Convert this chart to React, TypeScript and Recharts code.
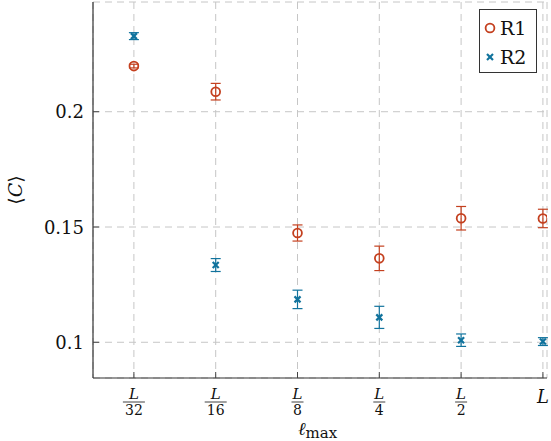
import React from "react";
import {
  ScatterChart,
  Scatter,
  XAxis,
  YAxis,
  CartesianGrid,
  ErrorBar,
  Legend,
  Label,
} from "recharts";

const xLabels = ["L/32", "L/16", "L/8", "L/4", "L/2", "L"];
const r1Mean = [0.2198, 0.2087, 0.1474, 0.1364, 0.1538, 0.1537];
const r1Err = [0.0008, 0.0036, 0.0035, 0.0053, 0.0051, 0.004];
const r2Mean = [0.2328, 0.1335, 0.1186, 0.1108, 0.1009, 0.1003];
const r2Err = [0.0015, 0.0028, 0.004, 0.0048, 0.0027, 0.0017];
const yTicks = [0.1, 0.15, 0.2];
const seriesNames = ["R1", "R2"];

const RED = "#c4401f";
const BLUE = "#11739d";
const FONT = "DejaVu Serif";
const xIdx = xLabels.map((_, i) => i);

const r1Data = xIdx.map((i) => ({ x: i, y: r1Mean[i], err: r1Err[i] }));
const r2Data = xIdx.map((i) => ({ x: i, y: r2Mean[i], err: r2Err[i] }));

const xDomain = [-0.5, 5.05];
const yDomain = [0.0845, 0.2476];

const Circle = (p: any) => (
  <circle cx={p.cx} cy={p.cy} r={4.4} fill="none" stroke={RED} strokeWidth={1.8} />
);

const Cross = (p: any) => {
  const s = 3;
  return (
    <g stroke={BLUE} strokeWidth={2.2}>
      <line x1={p.cx - s} y1={p.cy - s} x2={p.cx + s} y2={p.cy + s} />
      <line x1={p.cx - s} y1={p.cy + s} x2={p.cx + s} y2={p.cy - s} />
    </g>
  );
};

const BottomTick = (props: any) => {
  const { x, y, payload } = props;
  const [num, den] = xLabels[payload.value].split("/");
  return (
    <g>
      <line x1={x} x2={x} y1={y} y2={y - 6} stroke="#444" />
      {den ? (
        <>
          <text x={x} y={y + 21} textAnchor="middle" fontStyle="italic" fontSize={15} fontFamily={FONT} fill="#111">
            {num}
          </text>
          <line x1={x - den.length * 5 - 1} x2={x + den.length * 5 + 1} y1={y + 24} y2={y + 24} stroke="#111" strokeWidth={0.8} />
          <text x={x} y={y + 37} textAnchor="middle" fontSize={14} fontFamily={FONT} fill="#111">
            {den}
          </text>
        </>
      ) : (
        <text x={x} y={y + 25} textAnchor="middle" fontStyle="italic" fontSize={18} fontFamily={FONT} fill="#111">
          {num}
        </text>
      )}
    </g>
  );
};

const TopTick = (props: any) => (
  <line x1={props.x} x2={props.x} y1={props.y} y2={props.y + 6} stroke="#444" />
);

const LeftTick = (props: any) => {
  const { x, y, payload } = props;
  return (
    <g>
      <line x1={x} x2={x + 6} y1={y} y2={y} stroke="#444" />
      <text x={x - 9} y={y + 6.5} textAnchor="end" fontSize={18} fontFamily={FONT} fill="#111">
        {String(payload.value)}
      </text>
    </g>
  );
};

const RightTick = (props: any) => (
  <line x1={props.x} x2={props.x - 6} y1={props.y} y2={props.y} stroke="#444" />
);

const LegendBox = () => (
  <div
    style={{
      border: "1px solid #333",
      background: "#fff",
      width: 58,
      height: 64,
      boxSizing: "border-box",
      fontFamily: FONT,
      fontSize: 19,
      color: "#111",
    }}
  >
    {seriesNames.map((name, i) => (
      <div key={name} style={{ display: "flex", alignItems: "center", height: 29, marginTop: i === 0 ? 3 : 0 }}>
        <svg width={20} height={20}>
          {i === 0 ? <Circle cx={10} cy={10} /> : <Cross cx={10} cy={10} />}
        </svg>
        <span>{name}</span>
      </div>
    ))}
  </div>
);

export default function App() {
  return (
    <div style={{ position: "fixed", left: 0, top: 0, background: "#fff" }}>
      <ScatterChart width={551} height={441} margin={{ top: 2, right: 4, left: 0, bottom: 0 }}>
        <CartesianGrid stroke="#c6c6c6" strokeDasharray="7 5" />
        <XAxis
          dataKey="x"
          type="number"
          domain={xDomain}
          ticks={xIdx}
          allowDataOverflow
          height={63}
          tickSize={0}
          tickMargin={0}
          tickLine={false}
          tick={<BottomTick />}
          axisLine={{ stroke: "#333", strokeWidth: 1.2 }}
          interval={0}
        >
          <Label
            content={() => (
              <text x={298} y={435} fontFamily={FONT} fill="#111">
                <tspan fontSize={18} fontStyle="italic">ℓ</tspan>
                <tspan fontSize={15} dy={3}>max</tspan>
              </text>
            )}
          />
        </XAxis>
        <XAxis
          xAxisId="top"
          orientation="top"
          type="number"
          domain={xDomain}
          ticks={xIdx}
          allowDataOverflow
          height={0}
          tickSize={0}
          tickMargin={0}
          tickLine={false}
          tick={<TopTick />}
          axisLine={{ stroke: "#333", strokeWidth: 1.2 }}
          interval={0}
        />
        <YAxis
          dataKey="y"
          type="number"
          domain={yDomain}
          ticks={yTicks}
          allowDataOverflow
          width={93}
          tickSize={0}
          tickMargin={0}
          tickLine={false}
          tick={<LeftTick />}
          axisLine={{ stroke: "#333", strokeWidth: 1.2 }}
          interval={0}
        >
          <Label
            content={() => (
              <text x={22} y={190} textAnchor="middle" fontSize={19} fontFamily={FONT} fill="#111" transform="rotate(-90 22 190)">
                ⟨<tspan fontStyle="italic">C</tspan>⟩
              </text>
            )}
          />
        </YAxis>
        <YAxis
          yAxisId="right"
          orientation="right"
          type="number"
          domain={yDomain}
          ticks={yTicks}
          allowDataOverflow
          width={0}
          tickSize={0}
          tickMargin={0}
          tickLine={false}
          tick={<RightTick />}
          axisLine={{ stroke: "#333", strokeWidth: 1.2 }}
          interval={0}
        />
        <Legend
          layout="horizontal"
          verticalAlign="middle"
          align="center"
          content={<LegendBox />}
          wrapperStyle={{ top: 9, left: 479, width: 58, height: 64 }}
        />
        <Scatter name={seriesNames[0]} data={r1Data} shape={<Circle />} isAnimationActive={false}>
          <ErrorBar dataKey="err" direction="y" width={5} stroke={RED} strokeWidth={1.2} />
        </Scatter>
        <Scatter name={seriesNames[1]} data={r2Data} shape={<Cross />} isAnimationActive={false}>
          <ErrorBar dataKey="err" direction="y" width={5} stroke={BLUE} strokeWidth={1.2} />
        </Scatter>
      </ScatterChart>
    </div>
  );
}
